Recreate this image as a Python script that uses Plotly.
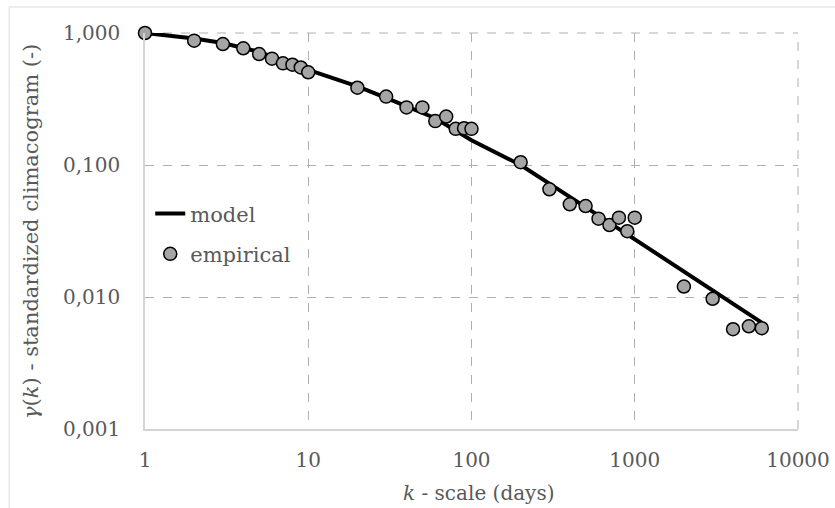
import plotly.graph_objects as go

# Empirical climacogram (time scale k in days, standardized value)
emp_k = [1, 2, 3, 4, 5, 6, 7, 8, 9, 10,
         20, 30, 40, 50, 60, 70, 80, 90, 100,
         200, 300, 400, 500, 600, 700, 800, 900, 1000,
         2000, 3000, 4000, 5000, 6000]
emp_gamma = [1.000, 0.875, 0.825, 0.766, 0.693, 0.639, 0.589, 0.575, 0.548, 0.504,
             0.385, 0.330, 0.273, 0.273, 0.215, 0.233, 0.188, 0.190, 0.188,
             0.105, 0.0655, 0.0504, 0.0489, 0.0392, 0.0351, 0.0399, 0.0315, 0.0399,
             0.0120, 0.0097, 0.0057, 0.0060, 0.0058]

# Fitted model climacogram
model_k = [1, 2, 3, 5, 10, 20, 30, 40, 60, 100, 200, 500, 1000, 2000, 3000, 6000]
model_gamma = [1.000, 0.91, 0.84, 0.72, 0.525, 0.394, 0.322, 0.278, 0.226, 0.154,
               0.100, 0.048, 0.0274, 0.0158, 0.0113, 0.0064]

x_tickvals = [1, 10, 100, 1000, 10000]
x_ticktext = ["1", "10", "100", "1000", "10000"]
y_tickvals = [1, 0.1, 0.01, 0.001]
y_ticktext = ["1,000", "0,100", "0,010", "0,001"]

FONT = "DejaVu Serif"
TXT = "#595959"
GRID = "#b0b0b0"

fig = go.Figure()

fig.add_trace(go.Scatter(
    x=model_k, y=model_gamma, mode="lines", name="model",
    legendgroup="model", cliponaxis=False,
    line=dict(color="black", width=4),
))
fig.add_trace(go.Scatter(
    x=emp_k, y=emp_gamma, mode="markers", name="empirical",
    legendgroup="empirical", cliponaxis=False,
    marker=dict(size=13, color="#a5a5a5", line=dict(color="black", width=1.5)),
))

fig.update_layout(
    width=835, height=508,
    margin=dict(l=145, r=37, t=33, b=79, autoexpand=False),
    paper_bgcolor="white", plot_bgcolor="white",
    font=dict(family=FONT, size=20, color=TXT),
    showlegend=True,
    legend=dict(x=0.008, y=0.595, xanchor="left", yanchor="top",
                bgcolor="rgba(0,0,0,0)", font=dict(size=21, color=TXT),
                itemwidth=30, traceorder="grouped", tracegroupgap=10),
    xaxis=dict(
        type="log", range=[0, 4],
        tickvals=x_tickvals, ticktext=x_ticktext,
        tickfont=dict(size=20, color=TXT),
        showgrid=True, gridcolor=GRID, griddash="dash", gridwidth=1,
        showline=True, linecolor="#d4d4d4", linewidth=1.5,
        ticks="outside", ticklen=12, tickcolor="rgba(0,0,0,0)",
        zeroline=False, automargin=False,
    ),
    yaxis=dict(
        type="log", range=[-3, 0],
        tickvals=y_tickvals, ticktext=y_ticktext,
        tickfont=dict(size=20, color=TXT),
        showgrid=True, gridcolor=GRID, griddash="dash", gridwidth=1,
        showline=True, linecolor="#d4d4d4", linewidth=1.5,
        ticks="outside", ticklen=19, tickcolor="rgba(0,0,0,0)",
        zeroline=False, automargin=False,
    ),
    annotations=[
        dict(text="<i>k</i> - scale (days)", xref="paper", yref="paper",
             x=0.511, y=-0.162, xanchor="center", yanchor="middle",
             showarrow=False, font=dict(size=20, color=TXT)),
        dict(text="<i>γ</i>(<i>k</i>) - standardized climacogram (-)",
             xref="paper", yref="paper", x=-0.1746, y=0.5, textangle=-90,
             xanchor="center", yanchor="middle", showarrow=False,
             font=dict(size=21, color=TXT)),
    ],
    shapes=[
        # top and right edge gridlines
        dict(type="line", xref="paper", yref="paper", x0=0, x1=1, y0=1, y1=1,
             line=dict(color=GRID, width=1, dash="dash"), layer="below"),
        dict(type="line", xref="paper", yref="paper", x0=1, x1=1, y0=0, y1=1,
             line=dict(color=GRID, width=1, dash="dash"), layer="below"),
        # chart border
        dict(type="line", xref="paper", yref="paper", x0=-0.208, x1=1.06,
             y0=1.0657, y1=1.0657, line=dict(color="#dcdcdc", width=1)),
        dict(type="line", xref="paper", yref="paper", x0=-0.208, x1=-0.208,
             y0=-0.21, y1=1.0657, line=dict(color="#dcdcdc", width=1)),
    ],
)

fig.write_html("out.html")
